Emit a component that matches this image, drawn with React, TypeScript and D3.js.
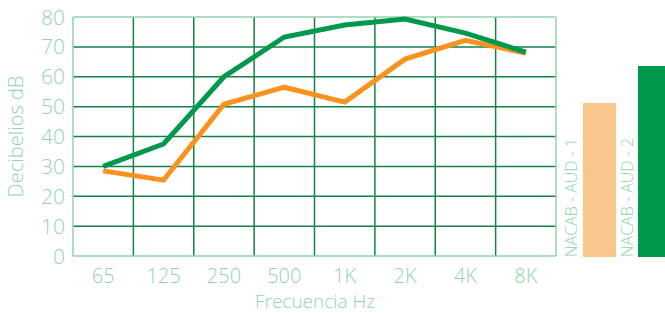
import React from "react";
import * as d3 from "d3";

const categories = ["65", "125", "250", "500", "1K", "2K", "4K", "8K"];
const seriesAud2 = [30, 37.5, 60, 73.3, 77.3, 79.3, 74.6, 68.2];
const seriesAud1 = [28.5, 25.4, 50.8, 56.5, 51.5, 65.9, 72.2, 67.9];
const yTicks = [0, 10, 20, 30, 40, 50, 60, 70, 80];
const legendLabels = ["NACAB - AUD - 1", "NACAB - AUD - 2"];

const W = 665;
const H = 313;
const left = 73;
const right = 556;
const top = 17;
const bottom = 256;

const lightGreen = "#92d3ae";
const gridGreen = "#13824a";
const green = "#00984b";
const orange = "#f7931e";
const paleOrange = "#f9c78b";
const font = "'Open Sans', 'Noto Sans', sans-serif";

export default function App() {
  const xBand = d3.scaleBand<string>().domain(categories).range([left, right]).padding(0);
  const y = d3.scaleLinear().domain([0, 80]).range([bottom, top]);
  const cx = (c: string) => (xBand(c) as number) + xBand.bandwidth() / 2;
  const line = d3
    .line<number>()
    .x((_, i) => cx(categories[i]))
    .y((v) => y(v));

  return (
    <svg width={W} height={H} style={{ position: "absolute", left: 0, top: 0 }}>
      <rect width={W} height={H} fill="#fff" />
      {yTicks.slice(1, -1).map((t) => (
        <line key={"h" + t} x1={left} x2={right} y1={y(t)} y2={y(t)} stroke={gridGreen} strokeWidth={1.5} />
      ))}
      {categories.slice(1).map((c) => (
        <line
          key={"v" + c}
          x1={xBand(c) as number}
          x2={xBand(c) as number}
          y1={top}
          y2={bottom}
          stroke={gridGreen}
          strokeWidth={1.5}
        />
      ))}
      <line x1={left} x2={right} y1={top} y2={top} stroke={lightGreen} strokeWidth={1.5} />
      <line x1={left} x2={right} y1={bottom} y2={bottom} stroke={lightGreen} strokeWidth={1.5} />
      <line x1={left} x2={left} y1={top} y2={bottom} stroke={lightGreen} strokeWidth={1.5} />
      <line x1={right} x2={right} y1={top} y2={bottom} stroke={lightGreen} strokeWidth={1.5} />

      <path d={line(seriesAud1) || ""} fill="none" stroke={orange} strokeWidth={5} strokeLinejoin="miter" />
      <path d={line(seriesAud2) || ""} fill="none" stroke={green} strokeWidth={5} strokeLinejoin="miter" />

      {yTicks.map((t) => (
        <text
          key={"yt" + t}
          x={65}
          y={y(t)}
          dy="0.36em"
          textAnchor="end"
          fontFamily={font}
          fontWeight={300}
          fontSize={21}
          fill={lightGreen}
        >
          {t}
        </text>
      ))}
      {categories.map((c) => (
        <text
          key={"xt" + c}
          x={cx(c)}
          y={283}
          textAnchor="middle"
          fontFamily={font}
          fontWeight={300}
          fontSize={20}
          fill={lightGreen}
        >
          {c}
        </text>
      ))}
      <text x={315} y={308} textAnchor="middle" fontFamily={font} fontWeight={300} fontSize={19} fill={lightGreen}>
        Frecuencia Hz
      </text>
      <text
        transform={`translate(23,${(top + bottom) / 2}) rotate(-90)`}
        textAnchor="middle"
        fontFamily={font}
        fontWeight={300}
        fontSize={20}
        fill={lightGreen}
      >
        Decibelios dB
      </text>

      <rect x={583} y={103} width={33} height={154} fill={paleOrange} />
      <rect x={638} y={66} width={27} height={191} fill={green} />
      {legendLabels.map((l, i) => (
        <text
          key={l}
          transform={`translate(${[577, 633][i]},257) rotate(-90)`}
          textAnchor="start"
          fontFamily={font}
          fontWeight={300}
          fontSize={16}
          fill={lightGreen}
        >
          {l}
        </text>
      ))}
    </svg>
  );
}
